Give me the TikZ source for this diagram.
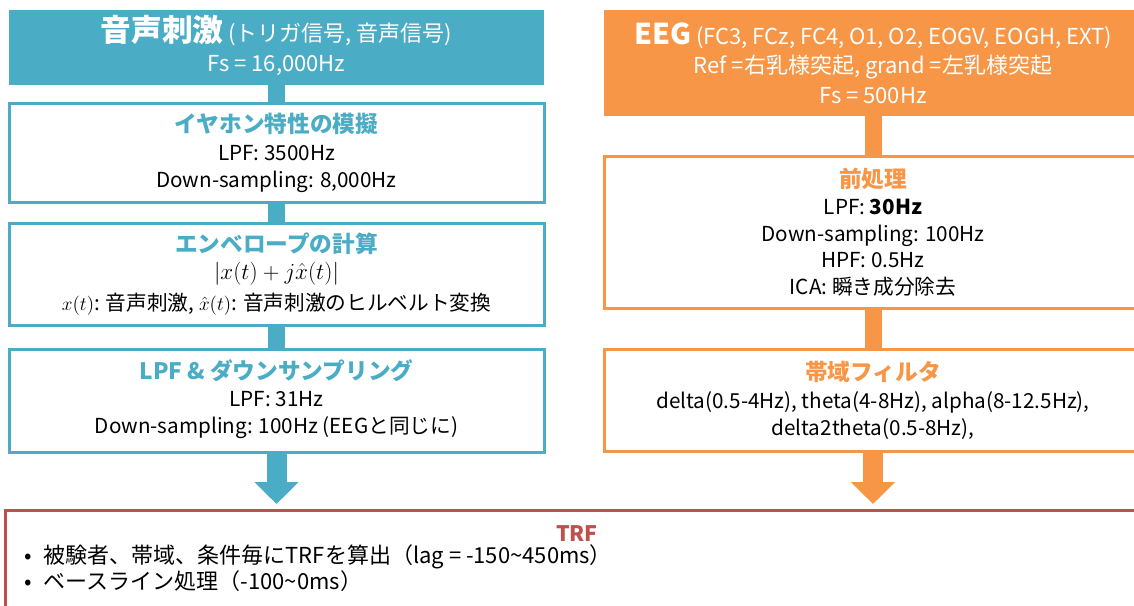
\documentclass[tikz,border=0pt]{standalone}
\usepackage[no-math]{fontspec}
\setmainfont{Noto Sans CJK JP}
\usetikzlibrary{arrows.meta}
\definecolor{cblue}{HTML}{4BACC6}
\definecolor{corange}{HTML}{F79646}
\definecolor{cred}{HTML}{C0504D}
\tikzset{
  hdrbox/.style={rectangle, inner sep=0pt, outer sep=0pt, align=center, text=white,
    font=\fontsize{16.5}{21.5}\selectfont},
  bluebox/.style={rectangle, draw=cblue, line width=2.25pt, fill=white, inner sep=0pt, outer sep=0pt,
    align=center, minimum width=401.25pt, font=\fontsize{15.5}{20.5}\selectfont},
  orangebox/.style={rectangle, draw=corange, line width=2.25pt, fill=white, inner sep=0pt, outer sep=0pt,
    align=center, minimum width=403.5pt, font=\fontsize{15.5}{20}\selectfont},
  stemline/.style={line width=12.75pt},
  bigarrow/.style={line width=15pt, -{Triangle[width=32.25pt,length=16.5pt]}, shorten >=4.5pt}
}
\newcommand{\bt}[1]{{\color{cblue}\bfseries\fontsize{17}{20}\selectfont #1}}
\newcommand{\ot}[1]{{\color{corange}\bfseries\fontsize{17}{20}\selectfont #1}}
\begin{document}
\begin{tikzpicture}[x=0.75pt,y=-0.75pt]
\useasboundingbox (0,0) rectangle (1134,606);
\clip (0,0) rectangle (1134,606);
% left column
\node[hdrbox, fill=cblue, minimum width=401.25pt, minimum height=56.25pt] (hdrL) at (276.5,47.5)
  {\raisebox{-2pt}{\begin{tabular}{@{}c@{}}{\fontsize{23}{26}\selectfont\bfseries 音声刺激} (トリガ信号, 音声信号)\\[1pt] Fs = 16,000Hz\end{tabular}}};
\node[bluebox, minimum height=73.5pt] (b2) at (276.5,153)
  {\bt{イヤホン特性の模擬}\\ LPF: 3500Hz\\ Down-sampling: 8,000Hz};
\node[bluebox, minimum height=76.5pt] (b3) at (276.5,274)
  {\bt{エンベロープの計算}\\ {\fontsize{16.5}{20}\selectfont$|x(t)+j\hat{x}(t)|$}\\[3pt] $x(t)$: 音声刺激, $\hat{x}(t)$: 音声刺激のヒルベルト変換};
\node[bluebox, minimum height=77.25pt] (b4) at (276.5,400.5)
  {\raisebox{2pt}{\begin{tabular}{@{}c@{}}\bt{LPF \& ダウンサンプリング}\\ LPF: 31Hz\\ Down-sampling: 100Hz (EEGと同じに)\end{tabular}}};
% right column
\node[hdrbox, fill=corange, minimum width=403.5pt, minimum height=79.5pt] (hdrR) at (873,63)
  {{\fontsize{21.5}{24}\selectfont\bfseries EEG} (FC3, FCz, FC4, O1, O2, EOGV, EOGH, EXT)\\ Ref =右乳様突起, grand =左乳様突起\\[1pt] Fs = 500Hz};
\node[orangebox, minimum height=113.25pt] (p1) at (873,232.5)
  {\ot{前処理}\\ LPF: \textbf{30Hz}\\ Down-sampling: 100Hz\\ HPF: 0.5Hz\\ ICA: 瞬き成分除去};
\node[orangebox, minimum height=76.5pt] (p2) at (873,400)
  {\ot{帯域フィルタ}\\[1pt] delta(0.5-4Hz), theta(4-8Hz), alpha(8-12.5Hz),\\ delta2theta(0.5-8Hz),};
% TRF
\node[rectangle, draw=cred, line width=2.25pt, fill=white, inner sep=0pt, outer sep=0pt,
  minimum width=858.75pt, minimum height=90pt] (trf) at (577.5,570) {};
\node[text=cred, font=\bfseries\fontsize{16}{20}\selectfont, inner sep=0pt] (trft) at (577,534) {TRF};
\node[anchor=north west, align=left, inner sep=0pt, font=\fontsize{16.5}{19.5}\selectfont] (trfb) at (24,544)
  {•\hspace{9pt}被験者、帯域、条件毎にTRFを算出（lag = -150\textasciitilde450ms）\\
   •\hspace{9pt}ベースライン処理（-100\textasciitilde0ms）};
% connectors
\draw[cblue, stemline] (hdrL.south) -- (b2.north);
\draw[cblue, stemline] (b2.south) -- (b3.north);
\draw[cblue, stemline] (b3.south) -- (b4.north);
\draw[corange, stemline] (hdrR.south) -- (p1.north);
\draw[corange, stemline] (p1.south) -- (p2.north);
\draw[cblue, bigarrow] (b4.south) -- (b4.south |- trf.north);
\draw[corange, bigarrow] (p2.south) -- (p2.south |- trf.north);
\end{tikzpicture}
\end{document}
